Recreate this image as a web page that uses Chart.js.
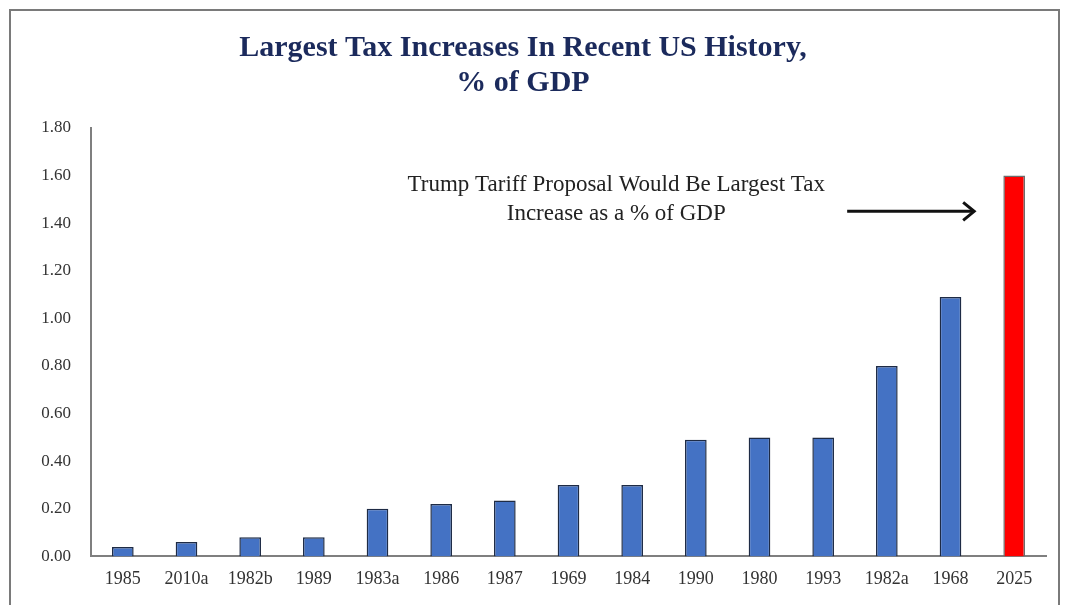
<!DOCTYPE html>
<html>
<head>
<meta charset="utf-8">
<script src="https://cdn.jsdelivr.net/npm/chart.js@4/dist/chart.umd.min.js"></script>
<style>
    html, body { margin: 0; padding: 0; background: #fff; }
    .wrap { position: relative; width: 1072px; height: 605px; }
    .frame {
        position: absolute; left: 9px; top: 9px; width: 1047px; height: 610px;
        border: 2px solid #7a7a7a; border-bottom: none; pointer-events: none;
    }
    canvas { position: absolute; left: 0; top: 0; }
</style>
</head>
<body>
<div class="wrap">
    <canvas id="taxChart" width="1072" height="605"></canvas>
    <div class="frame"></div>
</div>
<script>
// Chart data
const categories = ['1985', '2010a', '1982b', '1989', '1983a', '1986', '1987', '1969', '1984', '1990', '1980', '1993', '1982a', '1968', '2025'];
const pctOfGdp = [0.04, 0.06, 0.08, 0.08, 0.20, 0.22, 0.235, 0.30, 0.30, 0.49, 0.50, 0.50, 0.80, 1.09, 1.60];
const barColors = ['#4472C4', '#4472C4', '#4472C4', '#4472C4', '#4472C4', '#4472C4', '#4472C4', '#4472C4', '#4472C4', '#4472C4', '#4472C4', '#4472C4', '#4472C4', '#4472C4', '#FF0000'];
const titleLines = ['Largest Tax Increases In Recent US History,', '% of GDP'];
const noteLines = ['Trump Tariff Proposal Would Be Largest Tax', 'Increase as a % of GDP'];

const serif = "'Liberation Serif', 'DejaVu Serif', serif";

// Callout text + arrow pointing to the 2025 bar
const calloutPlugin = {
    id: 'callout',
    afterDatasetsDraw(chart) {
        const { ctx, scales: { x, y } } = chart;
        ctx.save();
        ctx.fillStyle = '#222';
        ctx.font = '23px ' + serif;
        ctx.textAlign = 'center';
        ctx.textBaseline = 'middle';
        const cx = x.getPixelForValue(7.75);
        ctx.fillText(noteLines[0], cx, y.getPixelForValue(1.56));
        ctx.fillText(noteLines[1], cx, y.getPixelForValue(1.44));

        // arrow
        const last = categories.length - 1;
        const tipX = x.getPixelForValue(last) - 40;
        const tailX = tipX - 127;
        const ay = y.getPixelForValue(1.45);
        ctx.strokeStyle = '#111';
        ctx.lineWidth = 3;
        ctx.beginPath();
        ctx.moveTo(tailX, ay);
        ctx.lineTo(tipX - 2, ay);
        ctx.stroke();
        ctx.beginPath();
        ctx.moveTo(tipX - 11, ay - 9);
        ctx.lineTo(tipX, ay);
        ctx.lineTo(tipX - 11, ay + 9);
        ctx.stroke();
        ctx.restore();
    }
};

const ctx = document.getElementById('taxChart').getContext('2d');
new Chart(ctx, {
    type: 'bar',
    data: {
        labels: categories,
        datasets: [{
            data: pctOfGdp,
            backgroundColor: barColors,
            borderColor: ['#1e2b45', '#1e2b45', '#1e2b45', '#1e2b45', '#1e2b45', '#1e2b45', '#1e2b45', '#1e2b45', '#1e2b45', '#1e2b45', '#1e2b45', '#1e2b45', '#1e2b45', '#1e2b45', '#6b6b6b'],
            borderWidth: 1.5,
            categoryPercentage: 1.0,
            barPercentage: 0.34
        }]
    },
    options: {
        responsive: false,
        animation: false,
        layout: { padding: { left: 0, right: 26, top: 0, bottom: 3 } },
        plugins: {
            legend: { display: false },
            tooltip: { enabled: false },
            title: {
                display: true,
                text: titleLines,
                color: '#1b2a5c',
                font: { family: serif, size: 30, weight: 'bold', lineHeight: 1.15 },
                padding: { top: 31, bottom: 28 }
            }
        },
        scales: {
            x: {
                grid: { display: false, drawTicks: false },
                border: { display: true, color: '#7f7f7f', width: 2 },
                ticks: {
                    color: '#333',
                    font: { family: serif, size: 18 },
                    padding: 12,
                    maxRotation: 0,
                    autoSkip: false
                }
            },
            y: {
                min: 0,
                max: 1.8,
                grid: { display: false, drawTicks: false },
                border: { display: true, color: '#7f7f7f', width: 2 },
                ticks: {
                    stepSize: 0.2,
                    color: '#333',
                    font: { family: serif, size: 17 },
                    padding: 20,
                    callback: v => Number(v).toFixed(2)
                },
                afterFit(scale) { scale.width = 91; }
            }
        }
    },
    plugins: [calloutPlugin]
});
</script>
</body>
</html>
